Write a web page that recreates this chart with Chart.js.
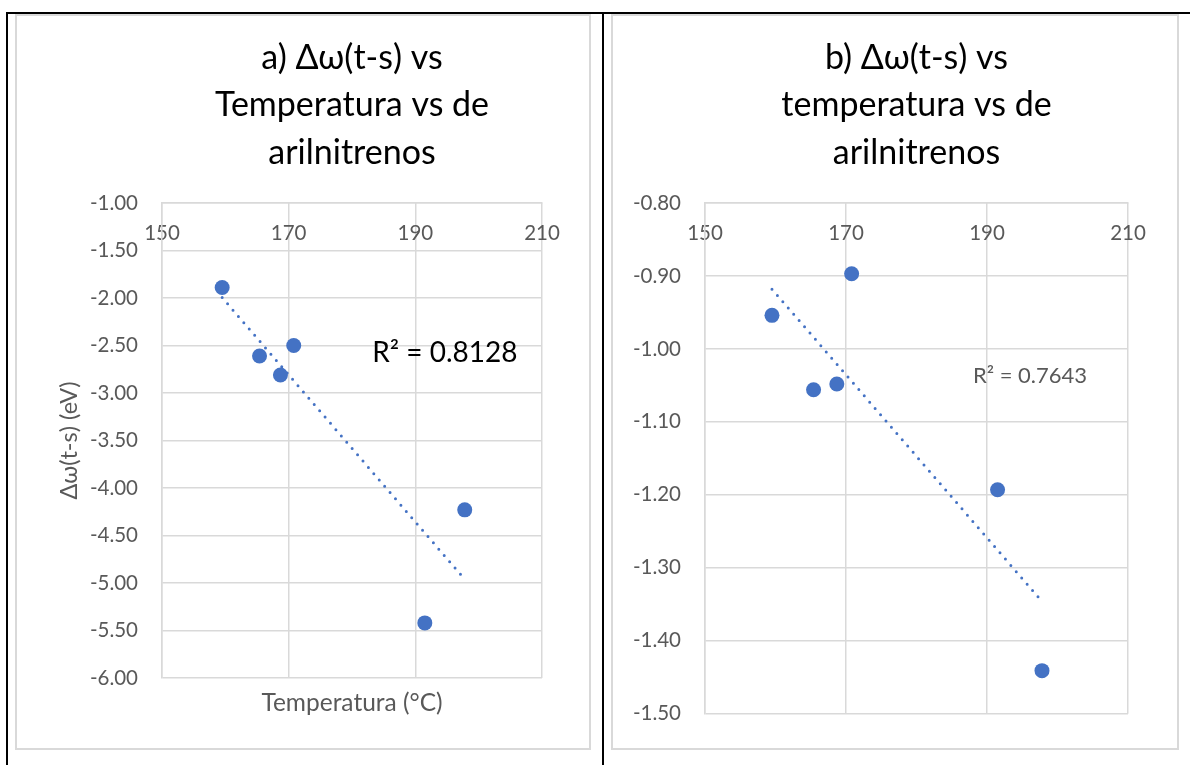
<!DOCTYPE html>
<html>
<head>
<meta charset="utf-8">
<script src="https://cdn.jsdelivr.net/npm/chart.js@4.4.1/dist/chart.umd.min.js"></script>
<style>
  body { margin: 0; background: #fff; }
  #page { position: relative; width: 1190px; height: 765px; overflow: hidden; }
  .rule { position: absolute; background: #000; }
  .frame { position: absolute; border: 2px solid #d9d9d9; box-sizing: border-box; }
  canvas { position: absolute; }
</style>
</head>
<body>
<div id="page">
  <div class="rule" style="left:6px;top:12px;width:1184px;height:2px"></div>
  <div class="rule" style="left:6px;top:12px;width:2px;height:753px"></div>
  <div class="rule" style="left:602px;top:12px;width:2px;height:753px"></div>
  <div class="frame" style="left:15px;top:14px;width:576px;height:736px"></div>
  <div class="frame" style="left:611px;top:14px;width:568px;height:736px"></div>
  <canvas id="chartA" width="576" height="736" style="left:15px;top:14px"></canvas>
  <canvas id="chartB" width="568" height="736" style="left:611px;top:14px"></canvas>
</div>
<script>
// temperatures (°C) and singlet-triplet gaps
const tempA = [159.5, 165.4, 168.7, 170.8, 191.5, 197.8];
const deltaA = [-1.89, -2.61, -2.81, -2.50, -5.42, -4.23];
const tempB = [159.5, 165.4, 168.7, 170.8, 191.5, 197.8];
const deltaB = [-0.954, -1.056, -1.048, -0.897, -1.193, -1.441];

const titleA = ['a) Δω(t-s) vs', 'Temperatura vs de', 'arilnitrenos'];
const titleB = ['b) Δω(t-s) vs', 'temperatura vs de', 'arilnitrenos'];
const r2A = 'R² = 0.8128';
const r2B = 'R² = 0.7643';
const r2PosA = [183.2, -2.58];
const r2PosB = [188.0, -1.0375];

const FONT = 'Lato';
const BLUE = '#4472C4';
const GRID = '#d9d9d9';
const TXT = '#595959';

// least squares trendline over the data range (like excel's linear trendline)
function trend(xs, ys) {
  const n = xs.length;
  const mx = xs.reduce((a, b) => a + b, 0) / n;
  const my = ys.reduce((a, b) => a + b, 0) / n;
  let sxy = 0, sxx = 0;
  for (let i = 0; i < n; i++) {
    sxy += (xs[i] - mx) * (ys[i] - my);
    sxx += (xs[i] - mx) * (xs[i] - mx);
  }
  const m = sxy / sxx, b = my - m * mx;
  const x0 = Math.min(...xs), x1 = Math.max(...xs);
  return [{ x: x0, y: m * x0 + b }, { x: x1, y: m * x1 + b }];
}

const toPoints = (xs, ys) => xs.map((x, i) => ({ x, y: ys[i] }));

const r2Label = {
  id: 'r2Label',
  afterDatasetsDraw(chart, args, opts) {
    const { ctx, scales: { x, y } } = chart;
    ctx.save();
    ctx.font = opts.size + 'px ' + FONT;
    ctx.fillStyle = opts.color;
    ctx.textBaseline = 'middle';
    ctx.textAlign = 'left';
    ctx.fillText(opts.text, x.getPixelForValue(opts.at[0]), y.getPixelForValue(opts.at[1]));
    ctx.restore();
  }
};

function makeChart(id, o) {
  const scales = {
    x: {
      type: 'linear', axis: 'x', position: { y: o.yMax }, min: 150, max: 210,
      ticks: { stepSize: 20, padding: 18, color: TXT, font: { family: FONT, size: 20.5 } },
      grid: { color: GRID, lineWidth: 1.5, drawTicks: false },
      border: { color: GRID, width: 1.5 }
    },
    y: {
      type: 'linear', axis: 'y', position: 'left', min: o.yMin, max: o.yMax,
      ticks: { stepSize: o.step, padding: 24, color: TXT, font: { family: FONT, size: 20.5 },
        callback: v => v.toFixed(2) },
      grid: { color: GRID, lineWidth: 1.5, drawTicks: false },
      border: { color: GRID, width: 1.5 },
      title: o.yTitle ? { display: true, text: o.yTitle, color: TXT, font: { family: FONT, size: 23.5 },
        padding: { top: 40, bottom: 0 } } : { display: false },
      afterFit: s => { s.width = o.yWidth; }
    }
  };
  if (o.xTitle) {
    scales.x2 = {
      type: 'linear', axis: 'x', position: 'bottom', min: 150, max: 210,
      ticks: { display: false }, grid: { display: false }, border: { display: false },
      title: { display: true, text: o.xTitle, color: TXT, font: { family: FONT, size: 24.5 },
        padding: { top: 0, bottom: 32 } },
      afterFit: s => { s.height = o.bottom; }
    };
  }

  return new Chart(document.getElementById(id), {
    type: 'scatter',
    data: {
      datasets: [
        { data: toPoints(o.xs, o.ys), xAxisID: 'x', yAxisID: 'y',
          backgroundColor: BLUE, borderWidth: 0, pointRadius: 7.5, order: 1 },
        { type: 'line', data: trend(o.xs, o.ys), xAxisID: 'x', yAxisID: 'y',
          borderColor: BLUE, borderWidth: 3, borderDash: [0, 8.3], borderCapStyle: 'round',
          pointRadius: 0, fill: false, order: 2 }
      ]
    },
    options: {
      responsive: false,
      animation: false,
      devicePixelRatio: 1,
      layout: { padding: { left: 0, right: o.right, top: 0, bottom: o.xTitle ? 0 : o.bottom } },
      plugins: {
        legend: { display: false },
        tooltip: { enabled: false },
        title: {
          display: true, fullSize: false, text: o.title, color: '#000',
          font: { family: FONT, size: 34, weight: 'normal', lineHeight: 47.5 / 34 },
          padding: { top: 20, bottom: 26.5 }
        },
        r2Label: o.r2
      },
      scales
    },
    plugins: [r2Label]
  });
}

makeChart('chartA', {
  xs: tempA, ys: deltaA, title: titleA, yMin: -6, yMax: -1, step: 0.5,
  yTitle: 'Δω(t-s) (eV)', xTitle: 'Temperatura (°C)',
  yWidth: 147, right: 49, bottom: 72,
  r2: { text: r2A, at: r2PosA, size: 28, color: '#000' }
});

makeChart('chartB', {
  xs: tempB, ys: deltaB, title: titleB, yMin: -1.5, yMax: -0.8, step: 0.1,
  yWidth: 94, right: 51, bottom: 24,
  r2: { text: r2B, at: r2PosB, size: 22, color: TXT }
});
</script>
</body>
</html>
